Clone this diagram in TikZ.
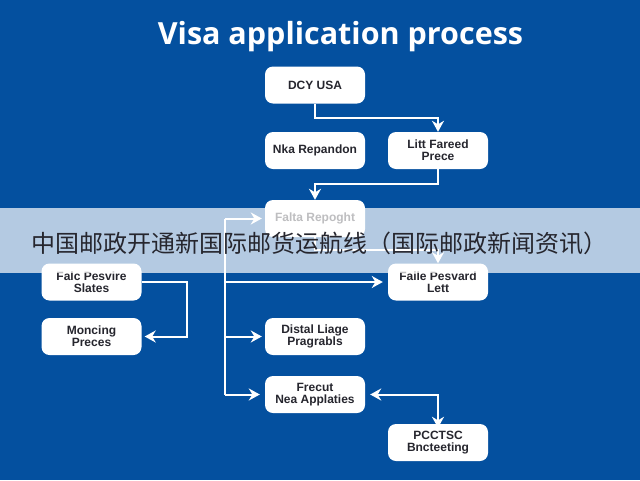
\documentclass[tikz,border=0pt]{standalone}
\usepackage{fontspec}
\setmainfont{Liberation Sans}
\newfontfamily\titlefont{Open Sans}
\newfontfamily\cjk{Noto Sans CJK SC}
\usetikzlibrary{arrows.meta}
\definecolor{bgblue}{HTML}{04509F}
\definecolor{inktext}{HTML}{26262E}
\tikzset{
	box/.style={draw=none, fill=white, rounded corners=8pt, minimum width=100pt, minimum height=37pt, align=center, font=\fontsize{12}{12}\selectfont\bfseries, text=inktext},
	link/.style={draw=white, line width=2pt, -{Stealth[length=11pt,width=12pt,inset=3.5pt]}},
	twolink/.style={link, {Stealth[length=11pt,width=12pt,inset=3.5pt]}-{Stealth[length=11pt,width=12pt,inset=3.5pt]}},
	plain/.style={draw=white, line width=2pt}
}
\begin{document}
\begin{tikzpicture}[x=1pt,y=-1pt]
	\useasboundingbox (0,0) rectangle (640,480);
	\fill[bgblue] (0,0) rectangle (640,480);
	\node[font=\titlefont\fontsize{30.5}{34}\selectfont\bfseries, text=white] (title) at (340.5,37) {Visa application process};

	\node[box] (dcy) at (315,85) {DCY USA};
	\node[box] (nka) at (315,150.5) {Nka Repandon};
	\node[box] (litt) at (438,150.5) {Litt Fareed\\Prece};
	\node[box] (falta) at (315,218.5) {Falta Repoght};
	\node[box] (falk) at (91.5,282) {Falc Pesvire\\Slates};
	\node[box] (moncing) at (91.5,336.5) {Moncing\\Preces};
	\node[box] (faile) at (438,282) {Faile Pesvard\\Lett};
	\node[box] (distal) at (315,336.5) {Distal Liage\\Pragrabls};
	\node[box] (frecut) at (315,394.5) {Frecut\\Nea Applaties};
	\node[box] (pcctsc) at (438,442.5) {PCCTSC\\Bncteeting};

	\coordinate (trunk) at (225,300);
	\coordinate (elbow) at (187,300);

	\draw[link] (dcy.south) |- (376,118) -| (litt.north);
	\draw[link] (litt.south) |- (376,184) -| (falta.north);
	\draw[link] (falta.south) |- (376,250) -| (faile.north);
	\draw[plain] (trunk|-falta.west) -- (trunk|-frecut.west);
	\draw[link] (trunk|-falta.west) -- ([xshift=-3pt]falta.west);
	\draw[link] (trunk|-faile.west) -- ([xshift=-5pt]faile.west);
	\draw[link] (trunk|-distal.west) -- ([xshift=-3pt]distal.west);
	\draw[link] (trunk|-frecut.west) -- ([xshift=-5pt]frecut.west);
	\draw[link] (falk.east) -| (elbow|-moncing.east) -- ([xshift=3pt]moncing.east);
	\draw[twolink] ([xshift=5pt]frecut.east) -| ([yshift=-4pt]pcctsc.north);

	\fill[white, fill opacity=0.7] (0,208) rectangle (640,273);
	\node[font=\cjk\fontsize{24}{28}\selectfont, text=inktext] (headline) at (319.5,243) {中国邮政开通新国际邮货运航线（国际邮政新闻资讯）};
\end{tikzpicture}
\end{document}
